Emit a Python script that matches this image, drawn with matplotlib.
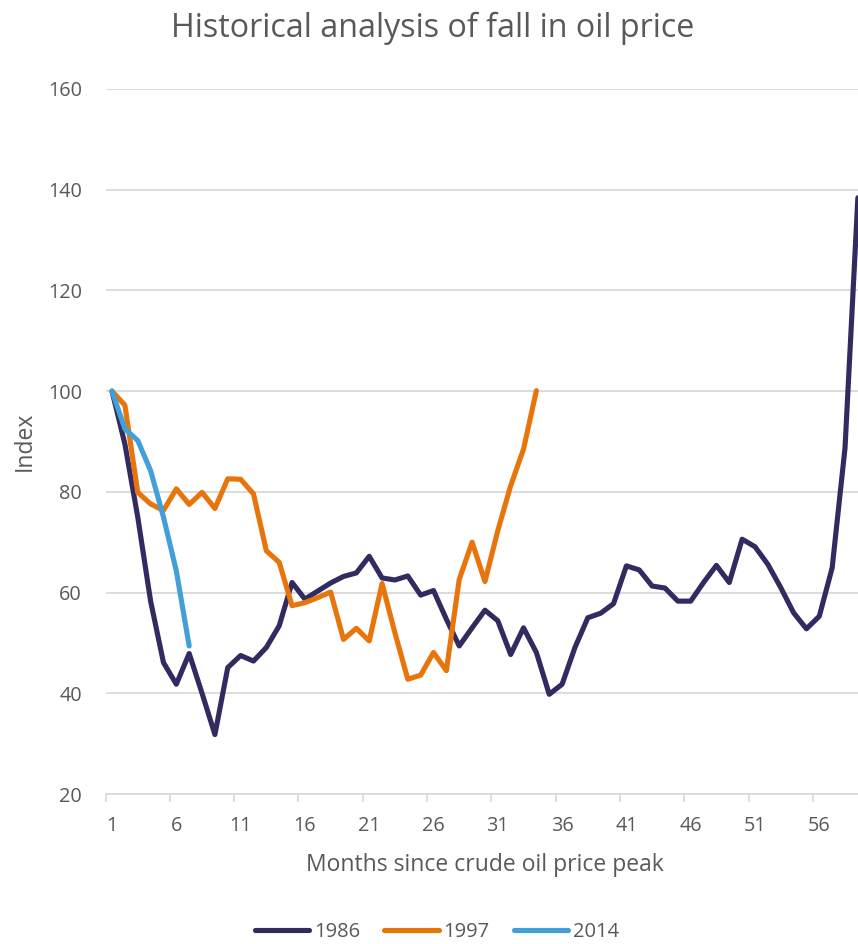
import matplotlib
matplotlib.use("Agg")
import matplotlib.pyplot as plt
from matplotlib.ticker import FixedLocator, NullFormatter
import numpy as np

# Index (peak month = 100) for each oil price fall episode
idx_1986 = [100, 89.5, 75.0, 58.3, 46.1, 41.8, 47.9, 40.0, 31.8, 45.1,
            47.5, 46.4, 49.1, 53.4, 62.0, 58.7, 60.3, 61.9, 63.2, 63.9,
            67.2, 62.9, 62.5, 63.3, 59.5, 60.4, 54.7, 49.4, 53.0, 56.5,
            54.4, 47.7, 53.0, 48.1, 39.8, 41.8, 49.1, 55.0, 55.9, 57.8,
            65.3, 64.5, 61.3, 60.9, 58.3, 58.3, 62.0, 65.4, 62.0, 70.6,
            69.1, 65.6, 61.0, 56.0, 52.8, 55.3, 64.9, 88.7, 138.4]
idx_1997 = [100, 97.2, 79.9, 77.6, 76.3, 80.6, 77.5, 79.9, 76.7, 82.6,
            82.5, 79.6, 68.3, 66.0, 57.4, 58.0, 59.0, 60.1, 50.7, 52.9,
            50.4, 61.8, 52.0, 42.8, 43.6, 48.1, 44.5, 62.6, 70.0, 62.2,
            72.3, 81.2, 88.5, 100.1]
idx_2014 = [100, 92.5, 90.2, 84.2, 75.0, 64.3, 49.4]

series_names = ["1986", "1997", "2014"]
colors = ["#322B5F", "#E8740C", "#41A0D8"]
month_labels = [1, 6, 11, 16, 21, 26, 31, 36, 41, 46, 51, 56]
y_ticks = [20, 40, 60, 80, 100, 120, 140, 160]

plt.rcParams["font.family"] = ["Open Sans", "DejaVu Sans"]
TXT = "#595959"
GRID = "#D9D9D9"

W, H = 858, 944
fig = plt.figure(figsize=(W / 100, H / 100), dpi=100)
# plot area: x = 0.5 .. 59.5 (category axis), runs slightly past the right edge
x0, x1 = 105.6, 864.3
yt, yb = 89, 794
ax = fig.add_axes([x0 / W, 1 - yb / H, (x1 - x0) / W, (yb - yt) / H])

for vals, name, c in zip([idx_1986, idx_1997, idx_2014], series_names, colors):
    months = np.arange(1, len(vals) + 1)
    ax.plot(months, vals, color=c, lw=3.7, label=name,
            solid_joinstyle="round", solid_capstyle="round", zorder=3)

ax.set_xlim(0.5, 59.5)
ax.set_ylim(20, 160)

ax.set_yticks(y_ticks)
ax.yaxis.grid(True, color=GRID, lw=1.3)
ax.set_axisbelow(True)
ax.tick_params(axis="y", length=0, pad=17, labelsize=14.3, labelcolor=TXT)

# tick marks sit between categories, labels on the categories
ax.xaxis.set_major_locator(FixedLocator(np.arange(0.5, 60, 5)))
ax.xaxis.set_major_formatter(NullFormatter())
ax.xaxis.set_minor_locator(FixedLocator(month_labels))
ax.set_xticklabels([str(m) for m in month_labels], minor=True)
ax.tick_params(axis="x", which="major", length=6, width=1.3, color=GRID)
ax.tick_params(axis="x", which="minor", length=0, pad=16, labelsize=14.3,
               labelcolor=TXT)

for s in ["top", "right", "left"]:
    ax.spines[s].set_visible(False)
ax.spines["bottom"].set_color(GRID)
ax.spines["bottom"].set_linewidth(1.3)

ax.set_xlabel("Months since crude oil price peak", fontsize=16.5, color=TXT,
              labelpad=12)
ax.set_ylabel("Index", fontsize=16.5, color=TXT, labelpad=8)
fig.text(433 / W, 1 - 37 / H, "Historical analysis of fall in oil price",
         ha="center", va="baseline", fontsize=23.2, color=TXT)

fig.legend(loc="center", bbox_to_anchor=(437 / W, 1 - 932 / H), ncol=3,
           frameon=False, fontsize=14.5, labelcolor=TXT, handlelength=2.7,
           handletextpad=0.25, columnspacing=1.2)

fig.savefig("out.png", dpi=100)
